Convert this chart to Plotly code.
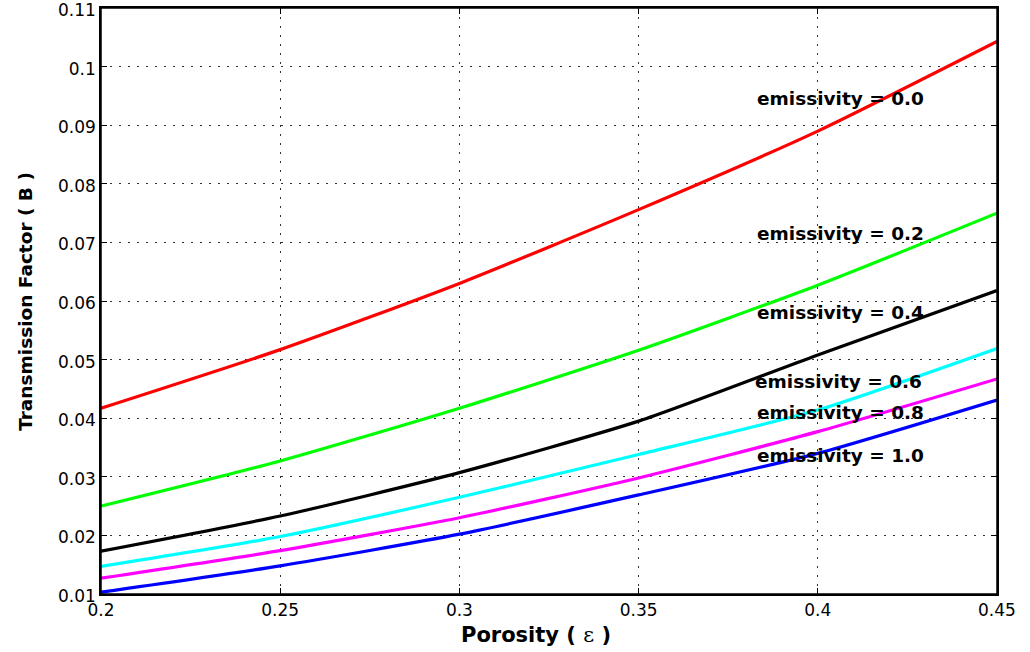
import plotly.graph_objects as go

# Porosity values (x) and transmission factor B for each emissivity
porosity = [0.20, 0.25, 0.30, 0.35, 0.40, 0.45]
b_e00 = [0.0417, 0.0517, 0.0630, 0.0756, 0.0890, 0.1043]
b_e02 = [0.0250, 0.0327, 0.0417, 0.0516, 0.0627, 0.0750]
b_e04 = [0.0173, 0.0233, 0.0307, 0.0395, 0.0508, 0.0618]
b_e06 = [0.0147, 0.0198, 0.0265, 0.0338, 0.0414, 0.0519]
b_e08 = [0.0127, 0.0174, 0.0230, 0.0298, 0.0377, 0.0467]
b_e10 = [0.0103, 0.0148, 0.0202, 0.0269, 0.0340, 0.0431]

series = [
    ("emissivity = 0.0", b_e00, "#ff0000"),
    ("emissivity = 0.2", b_e02, "#00ff00"),
    ("emissivity = 0.4", b_e04, "#000000"),
    ("emissivity = 0.6", b_e06, "#00ffff"),
    ("emissivity = 0.8", b_e08, "#ff00ff"),
    ("emissivity = 1.0", b_e10, "#0000ff"),
]

# Label anchor positions (left edge, vertical middle) in data coordinates
label_x = [0.3824, 0.3824, 0.3824, 0.3819, 0.3824, 0.3824]
label_y = [0.0946, 0.0716, 0.0581, 0.0462, 0.0409, 0.0337]

x_ticks = [0.2, 0.25, 0.3, 0.35, 0.4, 0.45]
x_tick_text = ["0.2", "0.25", "0.3", "0.35", "0.4", "0.45"]
y_ticks = [0.01, 0.02, 0.03, 0.04, 0.05, 0.06, 0.07, 0.08, 0.09, 0.1, 0.11]
y_tick_text = ["0.01", "0.02", "0.03", "0.04", "0.05", "0.06", "0.07", "0.08", "0.09", "0.1", "0.11"]

FONT = "DejaVu Sans, Arial, sans-serif"

fig = go.Figure()
for name, vals, color in series:
    fig.add_trace(go.Scatter(
        x=porosity, y=vals, mode="lines", name=name,
        line=dict(color=color, width=3.2, shape="spline", smoothing=0.6),
        showlegend=False,
    ))

for (name, _, _), lx, ly in zip(series, label_x, label_y):
    fig.add_annotation(
        x=lx, y=ly, text=f"<b>{name}</b>", showarrow=False,
        xanchor="left", yanchor="middle",
        font=dict(family=FONT, size=18.5, color="black"),
    )

axis_common = dict(
    showline=True, linecolor="black", linewidth=1.5, mirror="ticks",
    ticks="inside", ticklen=6, tickcolor="black",
    showgrid=True, gridcolor="#333333", griddash="1.5px,7.5px", gridwidth=1,
    zeroline=False, automargin=False, ticklabeloverflow="allow",
    tickfont=dict(family=FONT, size=17, color="black"),
)

fig.update_xaxes(range=[0.19999, 0.45001], tickvals=x_ticks, ticktext=x_tick_text, **axis_common)
fig.update_yaxes(range=[0.00999, 0.11001], tickvals=y_ticks, ticktext=y_tick_text,
                 ticklabelshift=2, **axis_common)

# Box frame around the plotting area
fig.add_shape(type="rect", xref="paper", yref="paper", x0=0, y0=0, x1=1, y1=1,
              line=dict(color="black", width=1.5), fillcolor="rgba(0,0,0,0)", layer="above")

fig.add_annotation(
    xref="paper", yref="paper", x=0.4855, y=-0.07,
    text="<b>Porosity ( </b><span style='font-family:DejaVu Serif, serif'>ε</span><b> )</b>",
    showarrow=False, xanchor="center", yanchor="middle",
    font=dict(family=FONT, size=21, color="black"),
)
fig.add_annotation(
    xref="paper", yref="paper", x=-0.085, y=0.5, textangle=-90,
    text="<b>Transmission Factor ( B )</b>",
    showarrow=False, xanchor="center", yanchor="middle",
    font=dict(family=FONT, size=18.5, color="black"),
)

fig.update_layout(
    width=1030, height=652,
    margin=dict(l=101, r=33, t=8, b=58),
    paper_bgcolor="white", plot_bgcolor="white",
)

fig.write_html("out.html")
